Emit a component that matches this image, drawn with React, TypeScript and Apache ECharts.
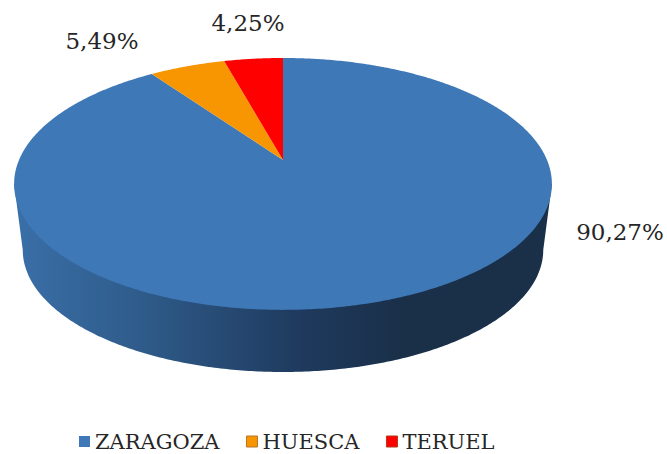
import React, { useEffect, useRef } from "react";
import * as echarts from "echarts";

const categories = ["ZARAGOZA", "HUESCA", "TERUEL"];
const values = [90.27, 5.49, 4.25];
const valueLabels = ["90,27%", "5,49%", "4,25%"];
const colors = ["#3E78B6", "#F79600", "#FF0000"];

// Layout of the tilted disc (perspective projection of a circle)
const TILT = 0.19;
const TOP = { cx: 283, cy: 160, a: 264, b: 121.4 };
const BOTTOM = { cx: 283, cy: 226.8, a: 255.5, b: 117.6 };
const LABEL_CENTRES: [number, number][] = [
  [620, 232],
  [102, 41],
  [248, 23],
];
const FONT = '"DejaVu Serif", serif';

type Disc = typeof TOP;

function project(d: Disc, angle: number): number[] {
  const u = Math.sin(angle);
  const v = Math.cos(angle);
  const w = 1 + TILT * v;
  return [d.cx + (d.a * u) / w, d.cy - (d.b * v) / w];
}

function arc(d: Disc, from: number, to: number): number[][] {
  const steps = Math.max(2, Math.ceil(Math.abs(to - from) / 0.01));
  const pts: number[][] = [];
  for (let i = 0; i <= steps; i++) {
    pts.push(project(d, from + ((to - from) * i) / steps));
  }
  return pts;
}

const total = values.reduce((s, v) => s + v, 0);
const rimAngle = Math.acos(-TILT);

function makeSeries(index: number) {
  const startValue = values.slice(0, index).reduce((s, v) => s + v, 0);
  return {
    type: "custom",
    name: categories[index],
    coordinateSystem: "none",
    silent: true,
    itemStyle: { color: colors[index] },
    data: [[startValue, values[index]]],
    renderItem: (_params: any, api: any) => {
      const from = (api.value(0) / total) * Math.PI * 2;
      const to = ((api.value(0) + api.value(1)) / total) * Math.PI * 2;
      const children: any[] = [];
      if (index === 0) {
        const wall = [
          project(TOP, rimAngle),
          ...arc(BOTTOM, rimAngle, Math.PI * 2 - rimAngle),
          project(TOP, Math.PI * 2 - rimAngle),
        ];
        children.push({
          type: "polygon",
          shape: { points: wall },
          style: {
            fill: new echarts.graphic.LinearGradient(0, 0, 1, 0, [
              { offset: 0, color: "#3A6FA8" },
              { offset: 0.25, color: "#2E5A88" },
              { offset: 0.53, color: "#1F3A5E" },
              { offset: 0.72, color: "#1A3049" },
              { offset: 1, color: "#1A3049" },
            ]),
          },
        });
      }
      children.push({
        type: "polygon",
        shape: { points: [[TOP.cx, TOP.cy], ...arc(TOP, from, to)] },
        style: { fill: colors[index] },
      });
      children.push({
        type: "text",
        x: LABEL_CENTRES[index][0],
        y: LABEL_CENTRES[index][1],
        style: {
          text: valueLabels[index],
          font: `23px ${FONT}`,
          fill: "#262626",
          align: "center",
          verticalAlign: "middle",
        },
      });
      return { type: "group", children };
    },
  };
}

export default function App() {
  const ref = useRef<HTMLDivElement>(null);
  useEffect(() => {
    document.body.style.margin = "0";
    const chart = echarts.init(ref.current!, null, { renderer: "svg" });
    chart.setOption({
      animation: false,
      backgroundColor: "#ffffff",
      legend: {
        show: true,
        data: categories.map((name, i) => ({
          name,
          icon: "rect",
          itemStyle: {
            color: colors[i],
            borderColor: i === 0 ? colors[0] : i === 1 ? "#B5762A" : "#B23A1A",
            borderWidth: i === 0 ? 0 : 1,
          },
        })),
        left: 79,
        top: 431,
        itemWidth: 11,
        itemHeight: 11,
        itemGap: 26.5,
        textStyle: {
          fontFamily: FONT,
          fontSize: 21,
          color: "#262626",
        },
        padding: 0,
        selectedMode: false,
      },
      series: categories.map((_, i) => makeSeries(i)),
    });
    return () => chart.dispose();
  }, []);
  return <div ref={ref} style={{ width: 667, height: 454 }} />;
}
